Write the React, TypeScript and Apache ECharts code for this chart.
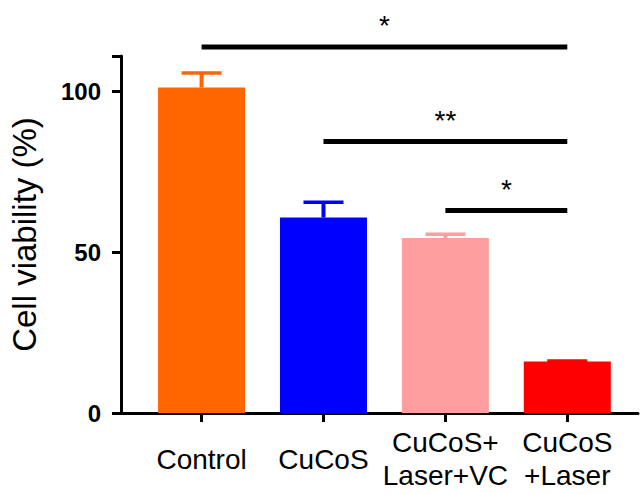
import React, { useEffect, useRef } from "react";
import * as echarts from "echarts";

// Groups, measured means and upper error limits (cell viability, %)
const categories = ["Control", "CuCoS", "CuCoS+\nLaser+VC", "CuCoS\n+Laser"];
const viability = [101.2, 60.8, 54.4, 16.0];
const errorUpper = [105.7, 65.5, 55.6, 16.2];
const barColors = ["#FF6600", "#0000FF", "#FF9E9E", "#FF0000"];

// Significance brackets: from group, to group, height (%), mark
const bracketFrom = [0, 1, 2];
const bracketTo = [3, 3, 3];
const bracketLevel = [113.8, 84.4, 63.0];
const bracketMark = ["*", "**", "*"];

const yTicks = [0, 50, 100];
const groupPositions = [0, 1, 2, 3];

const FONT = "'Liberation Sans', Arial, Helvetica, sans-serif";

export default function App() {
  const ref = useRef<HTMLDivElement>(null);

  useEffect(() => {
    if (!ref.current) return;
    const chart = echarts.init(ref.current, undefined, { renderer: "svg" });

    const barData = viability.map((v, i) => ({
      value: [groupPositions[i], v],
      itemStyle: { color: barColors[i] },
    }));
    const errData = viability.map((v, i) => [groupPositions[i], v, errorUpper[i]]);
    const bracketData = bracketFrom.map((f, i) => [f, bracketTo[i], bracketLevel[i]]);

    chart.setOption({
      animation: false,
      grid: { left: 115, right: 3, top: 56, bottom: 81, containLabel: false },
      xAxis: {
        type: "value",
        min: -0.661,
        max: 3.58,
        splitLine: { show: false },
        axisLine: { show: true, onZero: false, lineStyle: { color: "#000", width: 3 } },
        axisTick: {
          show: true,
          customValues: groupPositions,
          length: 9,
          lineStyle: { color: "#000", width: 3 },
        },
        axisLabel: {
          customValues: groupPositions,
          formatter: (v: number) => categories[Math.round(v)] ?? "",
          fontFamily: FONT,
          fontSize: 28,
          lineHeight: 33,
          color: "#000",
          verticalAlign: "middle",
          margin: 46,
        },
      },
      yAxis: {
        type: "value",
        min: 0,
        max: 111,
        interval: 50,
        name: "Cell viability (%)",
        nameLocation: "middle",
        nameRotate: 90,
        nameGap: 80,
        nameTextStyle: { fontFamily: FONT, fontSize: 33, color: "#000" },
        splitLine: { show: false },
        axisLine: { show: true, onZero: false, lineStyle: { color: "#000", width: 3 } },
        axisTick: { show: true, length: 9, lineStyle: { color: "#000", width: 3 } },
        axisLabel: {
          customValues: yTicks,
          fontFamily: FONT,
          fontSize: 24,
          fontWeight: "bold",
          color: "#000",
          margin: 20,
        },
      },
      series: [
        {
          type: "bar",
          data: barData,
          barWidth: 87,
          z: 2,
        },
        {
          type: "custom",
          z: 3,
          encode: { x: 0, y: [1, 2] },
          data: errData,
          renderItem: (params: any, api: any) => {
            const x = api.value(0);
            const p0 = api.coord([x, api.value(1)]);
            const p1 = api.coord([x, api.value(2)]);
            const color = barColors[params.dataIndex];
            return {
              type: "group",
              children: [
                {
                  type: "line",
                  shape: { x1: p0[0], y1: p0[1], x2: p1[0], y2: p1[1] },
                  style: { stroke: color, lineWidth: 4 },
                },
                {
                  type: "line",
                  shape: { x1: p1[0] - 20, y1: p1[1], x2: p1[0] + 20, y2: p1[1] },
                  style: { stroke: color, lineWidth: 3.5 },
                },
              ],
            };
          },
        },
        {
          type: "custom",
          z: 4,
          clip: false,
          encode: { x: [0, 1], y: 2 },
          data: bracketData,
          renderItem: (params: any, api: any) => {
            const a = api.coord([api.value(0), api.value(2)]);
            const b = api.coord([api.value(1), api.value(2)]);
            return {
              type: "group",
              children: [
                {
                  type: "line",
                  shape: { x1: a[0], y1: a[1], x2: b[0], y2: b[1] },
                  style: { stroke: "#000", lineWidth: 5 },
                },
                {
                  type: "text",
                  style: {
                    text: bracketMark[params.dataIndex],
                    x: (a[0] + b[0]) / 2,
                    y: a[1] - 21,
                    align: "center",
                    verticalAlign: "middle",
                    fontFamily: FONT,
                    fontSize: 28,
                    fill: "#000",
                  },
                },
              ],
            };
          },
        },
      ],
    });

    return () => chart.dispose();
  }, []);

  return (
    <div
      ref={ref}
      style={{ position: "fixed", left: 0, top: 0, width: 641, height: 494, background: "#fff" }}
    />
  );
}
